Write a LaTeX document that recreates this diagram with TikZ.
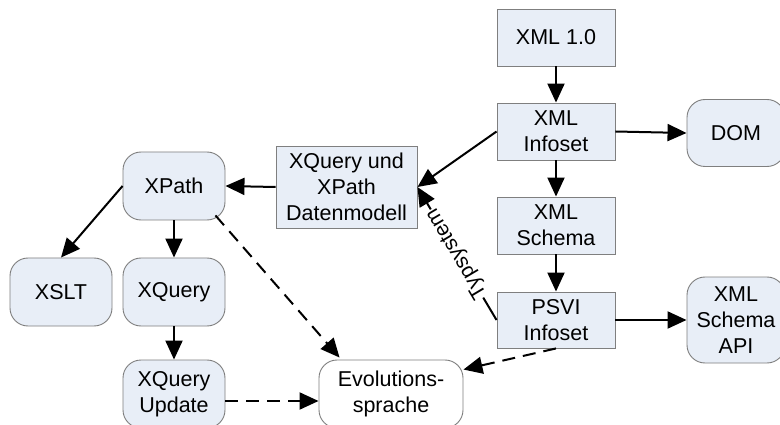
\documentclass[tikz,border=0pt]{standalone}
\usepackage{fontspec}
\setmainfont{Liberation Sans}
\usetikzlibrary{arrows.meta,calc}
\definecolor{boxfill}{HTML}{E8EEF7}
\definecolor{boxline}{HTML}{7F7F7F}
\tikzset{
  base/.style={draw=boxline, line width=0.9pt, fill=boxfill, align=center,
    font=\fontsize{21.5}{26}\selectfont, inner sep=2pt},
  sqbox/.style={base, rectangle},
  rdbox/.style={base, rectangle, rounded corners=18pt},
  arr/.style={line width=2pt, -{Triangle[length=19pt,width=17pt]}},
  darr/.style={arr, dash pattern=on 13pt off 8pt},
}
\begin{document}
\begin{tikzpicture}[x=1pt,y=-1pt]
\useasboundingbox (0,0) rectangle (780,425);
\clip (0,0) rectangle (780,425);
\fill[white] (0,0) rectangle (780,425);

% XML processing chain
\node[sqbox, minimum width=118pt, minimum height=57pt] (xml10) at (556,37.5) {XML 1.0};
\node[sqbox, minimum width=118pt, minimum height=57pt] (infoset) at (556,131.5) {XML\\Infoset};
\node[sqbox, minimum width=118pt, minimum height=57pt] (schema) at (556,225.5) {XML\\Schema};
\node[sqbox, minimum width=118pt, minimum height=56pt] (psvi) at (556,320) {PSVI\\Infoset};
\node[rdbox, minimum width=98pt, minimum height=67pt] (dom) at (736,133) {DOM};
\node[rdbox, minimum width=98pt, minimum height=86pt] (api) at (736,320) {XML\\Schema\\API};

% data model and query languages
\node[sqbox, minimum width=141pt, minimum height=82pt] (dm) at (346.5,187) {XQuery und\\XPath\\Datenmodell};
\node[rdbox, minimum width=102pt, minimum height=68pt] (xpath) at (174,186) {XPath};
\node[rdbox, minimum width=102pt, minimum height=68pt] (xslt) at (61,292) {XSLT};
\node[rdbox, minimum width=102pt, minimum height=68pt] (xquery) at (174,292) {XQuery};
\node[rdbox, minimum width=102pt, minimum height=68pt] (update) at (174,394) {XQuery\\Update};
\node[rdbox, fill=white, minimum width=144pt, minimum height=68pt] (evo) at (391,394) {Evolutions-\\sprache};

% connectors
\draw[arr] (xml10.south) -- (infoset.north);
\draw[arr] (infoset.south) -- (schema.north);
\draw[arr] (schema.south) -- (psvi.north);
\draw[arr] (infoset.east) -- (dom.west);
\draw[arr] (psvi.east) -- (api.west);
\draw[arr] (infoset.west) -- (dm.east);
\draw[arr] (psvi.west) -- node[sloped, allow upside down, fill=white, inner sep=1pt,
  font=\fontsize{21}{24}\selectfont] {Typsystem} (dm.east);
\draw[arr] (dm.west) -- (xpath.east);
\draw[arr] (xpath.west) -- (xslt.north);
\draw[arr] (xpath.south) -- (xquery.north);
\draw[arr] (xquery.south) -- (update.north);
\draw[darr] ($(xpath.south east)+(-10,-5)$) -- ($(evo.north west)+(21,-2)$);
\draw[darr] ($(update.east)+(0,7)$) -- ($(evo.west)+(0,7)$);
\draw[darr] (psvi.south) -- ($(evo.north east)+(0,10)$);
\end{tikzpicture}
\end{document}
